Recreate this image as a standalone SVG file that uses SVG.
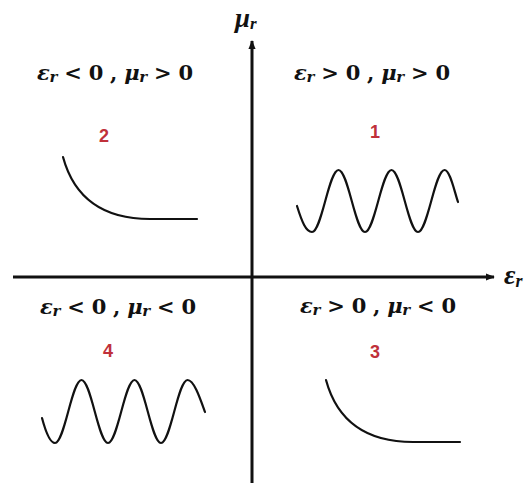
<svg xmlns="http://www.w3.org/2000/svg" width="530" height="487" viewBox="0 0 530 487">
<defs>
<style>
.lbl{font-family:"DejaVu Serif","Liberation Serif",serif;font-weight:bold;font-size:21px;fill:#111;text-anchor:middle}
.v{font-style:italic}
.sub{font-style:italic;font-size:15px}
.num{font-family:"Liberation Sans",Arial,sans-serif;font-weight:bold;font-size:18px;fill:#c0303a;text-anchor:middle}
.axl{font-family:"Liberation Serif","DejaVu Serif",serif;font-weight:bold;font-style:italic;fill:#111}
.curve{fill:none;stroke:#111;stroke-width:2.2;stroke-linecap:round}
.axis{stroke:#111;stroke-width:3;fill:none}
</style>
<marker id="ah" viewBox="0 0 10 10" refX="9" refY="5" markerWidth="9" markerHeight="9" markerUnits="userSpaceOnUse" orient="auto">
<path d="M0,1 L10,5 L0,9 Z" fill="#111"/>
</marker>
</defs>
<rect width="530" height="487" fill="#fff"/>
<g id="connectors">
<line class="axis" x1="252" y1="483" x2="252" y2="41" marker-end="url(#ah)"/>
<line class="axis" x1="13" y1="277" x2="494" y2="277" marker-end="url(#ah)"/>
</g>
<g id="axis-mu">
<text class="axl" x="235" y="27" font-size="27">μ<tspan font-size="17" dy="2">r</tspan></text>
</g>
<g id="axis-eps">
<text class="axl" x="504" y="284" font-size="28">ε<tspan font-size="18" dy="3">r</tspan></text>
</g>
<g id="q1">
<text class="lbl" x="372" y="80" textLength="156" lengthAdjust="spacing"><tspan class="v">ε</tspan><tspan class="sub" dy="2">r</tspan><tspan dy="-2"> &gt; 0 , </tspan><tspan class="v">μ</tspan><tspan class="sub" dy="2">r</tspan><tspan dy="-2"> &gt; 0</tspan></text>
<text class="num" x="375" y="138">1</text>
<path class="curve" d="M297,206 C302,222 306,232 312,232 C321.6,232 328.9,170 338.5,170 C348.1,170 355.4,232 365,232 C374.6,232 381.9,170 391.5,170 C401.1,170 408.4,232 418,232 C427.6,232 434.9,170 444.5,170 C450,170 454,190 458,202"/>
</g>
<g id="q2">
<text class="lbl" x="115" y="80" textLength="156" lengthAdjust="spacing"><tspan class="v">ε</tspan><tspan class="sub" dy="2">r</tspan><tspan dy="-2"> &lt; 0 , </tspan><tspan class="v">μ</tspan><tspan class="sub" dy="2">r</tspan><tspan dy="-2"> &gt; 0</tspan></text>
<text class="num" x="104" y="142">2</text>
<path class="curve" d="M63,157 C72,190 95,219 150,219 L197,219"/>
</g>
<g id="q3">
<text class="lbl" x="378" y="313" textLength="156" lengthAdjust="spacing"><tspan class="v">ε</tspan><tspan class="sub" dy="2">r</tspan><tspan dy="-2"> &gt; 0 , </tspan><tspan class="v">μ</tspan><tspan class="sub" dy="2">r</tspan><tspan dy="-2"> &lt; 0</tspan></text>
<text class="num" x="375" y="358">3</text>
<path class="curve" d="M326,380 C335,413 358,442 413,442 L460,442"/>
</g>
<g id="q4">
<text class="lbl" x="118" y="314" textLength="156" lengthAdjust="spacing"><tspan class="v">ε</tspan><tspan class="sub" dy="2">r</tspan><tspan dy="-2"> &lt; 0 , </tspan><tspan class="v">μ</tspan><tspan class="sub" dy="2">r</tspan><tspan dy="-2"> &lt; 0</tspan></text>
<text class="num" x="108" y="357">4</text>
<path class="curve" d="M42,418 C46,433 50,443 55,443 C64.6,443 71.9,380 81.5,380 C91.1,380 98.4,443 108,443 C117.6,443 124.9,380 134.5,380 C144.1,380 151.4,443 161,443 C170.6,443 177.9,380 187.5,380 C194,380 200,398 205,412"/>
</g>
</svg>
